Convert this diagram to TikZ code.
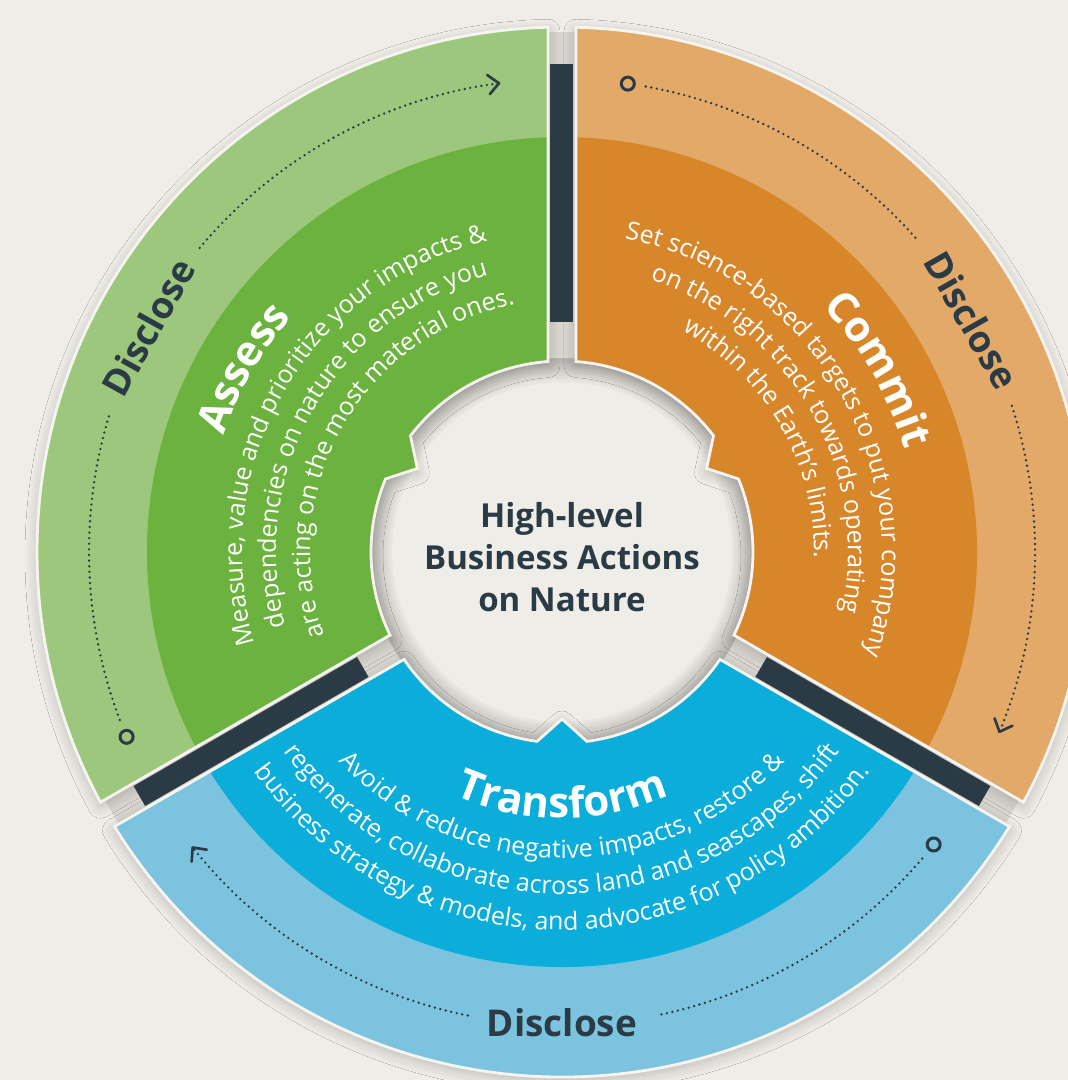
\documentclass[tikz,border=0pt]{standalone}
\usepackage{fontspec}
\setmainfont{Open Sans}
\usetikzlibrary{arrows.meta,calc,positioning,decorations.text,shadows.blur}
\definecolor{paper}{HTML}{EFEDE8}
\definecolor{gapc}{HTML}{D9D6D0}
\definecolor{rimc}{HTML}{F6F4EF}
\definecolor{ink}{HTML}{2B3B46}
\definecolor{grnL}{HTML}{9DC77C}
\definecolor{grnD}{HTML}{6BB23F}
\definecolor{orgL}{HTML}{E3A968}
\definecolor{orgD}{HTML}{D8862A}
\definecolor{bluL}{HTML}{7CC3E0}
\definecolor{bluD}{HTML}{0BADDA}
\newcommand\bodyfnt{\fontsize{7.1pt}{8.5pt}\selectfont}
\newcommand\headfnt{\fontsize{12pt}{14pt}\selectfont\bfseries}
\newcommand\discfnt{\fontsize{10.5pt}{12pt}\selectfont\bfseries}
\newcommand\hubfnt{\fontsize{9.4pt}{11.9pt}\selectfont\bfseries}
\newcommand\gapw{14}
\newcommand\rhole{191}
\newcommand\rtip{167}
\newcommand\bladepath[3]{({#1+asin(\gapw/#3)}:#3) arc[start angle={#1+asin(\gapw/#3)},end angle={#2-asin(\gapw/#3)},radius=#3]
  --({#2-asin(\gapw/\rhole)}:\rhole) arc[start angle={#2-asin(\gapw/\rhole)},end angle={(#1+#2)/2+7.5},radius=\rhole]
  --({(#1+#2)/2}:\rtip)--({(#1+#2)/2-7.5}:\rhole) arc[start angle={(#1+#2)/2-7.5},end angle={#1+asin(\gapw/\rhole)},radius=\rhole]--cycle}

\begin{document}
\begin{tikzpicture}[x=0.1mm,y=0.1mm,
        rim/.style={draw=rimc,line width=0.8pt},
        lifted/.style={blur shadow={shadow blur steps=6,shadow xshift=0mm,shadow yshift=-0.4mm,shadow blur radius=1.2mm,shadow opacity=22}},
        bar/.style={draw=ink,line width=2.3mm},
        dotline/.style={draw=ink,line width=0.75pt,line cap=round,dash pattern=on 0pt off 1.6pt},
        tipped/.style={dotline,-{Straight Barb[length=3pt,width=5.5pt,round]}},
        ringdot/.style={circle,draw=ink,line width=0.85pt,minimum size=1.3mm,inner sep=0pt},
        disc/.style={font=\discfnt,text=ink,inner sep=0pt},
        arctext/.style={decorate,decoration={text along path,text align=center,text color=white,text={#1}}}]
                \useasboundingbox (-562,-528) rectangle (506,552);
                \clip (-562,-528) rectangle (506,552);
                \fill[paper] (-562,-528) rectangle (506,552);
                \fill[gapc] (0,0) circle[radius=520];
                \fill[paper] (0,0) circle[radius=194];
                \foreach \i in {1,...,8}
                    \fill[black,opacity=0.03,even odd rule] (0,0) circle[radius=194] circle[radius={194-3*\i}];
                \foreach \a/\b/\lite/\deep in {90/210/grnL/grnD,-30/90/orgL/orgD,210/330/bluL/bluD}{
                    \fill[\lite,lifted] \bladepath{\a}{\b}{525};
                    \fill[\deep] \bladepath{\a}{\b}{415};
                    \draw[rim] \bladepath{\a}{\b}{525};
                }
                \foreach \t in {90,210,330}
                    \draw[bar] (\t:230)--(\t:488);
                \node[ringdot] at (203:473)(gs){};
                \draw[dotline] (200.8:473) arc[start angle=200.8,end angle=163,radius=473];
                \node[disc,rotate=61] at (151.5:471)(gd){Disclose};
                \draw[tipped] (140:473) arc[start angle=140,end angle=97.5,radius=473];
                \node[ringdot] at (82:473)(os){};
                \draw[dotline] (79.8:473) arc[start angle=79.8,end angle=41,radius=473];
                \node[disc,rotate=-60.5] at (29.5:471)(od){Disclose};
                \draw[tipped] (18:473) arc[start angle=18,end angle=-22.5,radius=473];
                \node[ringdot] at (-38.2:473)(bs){};
                \draw[dotline] (-40.4:473) arc[start angle=-40.4,end angle=-78.5,radius=473];
                \node[disc] at (-90:471)(bd){Disclose};
                \draw[tipped] (-101.5:473) arc[start angle=-101.5,end angle=-141.5,radius=473];
                \path[arctext={|\headfnt|Assess}] (215:358) arc[start angle=215,end angle=85,radius=358];
                \path[arctext={|\bodyfnt|Measure, value and prioritize your impacts {\&}}] (215:320) arc[start angle=215,end angle=85,radius=320];
                \path[arctext={|\bodyfnt|dependencies on nature to ensure you}] (215:286) arc[start angle=215,end angle=85,radius=286];
                \path[arctext={|\bodyfnt|are acting on the most material ones.}] (215:252) arc[start angle=215,end angle=85,radius=252];
                \path[arctext={|\headfnt|Commit}] (95:358) arc[start angle=95,end angle=-35,radius=358];
                \path[arctext={|\bodyfnt|Set science-based targets to put your company}] (95:320) arc[start angle=95,end angle=-35,radius=320];
                \path[arctext={|\bodyfnt|on the right track towards operating}] (95:286) arc[start angle=95,end angle=-35,radius=286];
                \path[arctext={|\bodyfnt|within the Earth{’}s limits.}] (95:252) arc[start angle=95,end angle=-35,radius=252];
                \path[arctext={|\headfnt|Transform}] (195:266) arc[start angle=195,end angle=345,radius=266];
                \path[arctext={|\bodyfnt|Avoid {\&} reduce negative impacts, restore {\&}}] (195:306) arc[start angle=195,end angle=345,radius=306];
                \path[arctext={|\bodyfnt|regenerate, collaborate across land and seascapes, shift}] (195:342) arc[start angle=195,end angle=345,radius=342];
                \path[arctext={|\bodyfnt|business strategy {\&} models, and advocate for policy ambition.}] (195:378) arc[start angle=195,end angle=345,radius=378];
                \node[font=\hubfnt,text=ink,align=center] at (0,-5)(hub){High-level\\Business Actions\\on Nature};
            \end{tikzpicture}
\end{document}
